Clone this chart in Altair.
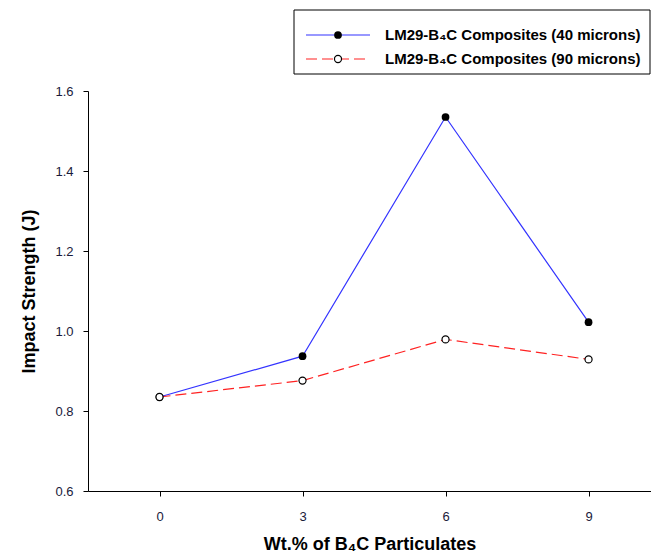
import altair as alt
import pandas as pd

wt = [0, 3, 6, 9]
s40 = [0.835, 0.937, 1.535, 1.022]
s90 = [0.835, 0.876, 0.979, 0.929]
names = ["LM29-B\u2084C Composites (40 microns)", "LM29-B\u2084C Composites (90 microns)"]
x_ticks = [0, 3, 6, 9]
y_ticks = [0.6, 0.8, 1.0, 1.2, 1.4, 1.6]

df40 = pd.DataFrame({"wt": wt, "v": s40})
df90 = pd.DataFrame({"wt": wt, "v": s90})

W, H = 563, 400
FONT = "Liberation Sans"

xs = alt.Scale(domain=[-1.5, 10.31], nice=False, zero=False)
ys = alt.Scale(domain=[0.6, 1.6], nice=False, zero=False)
xax = alt.Axis(values=x_ticks, title="Wt.% of B\u2084C Particulates", grid=False, titlePadding=12,
               labelPadding=14)
yax = alt.Axis(values=y_ticks, format=".1f", title="Impact Strength (J)", grid=False, titlePadding=16,
               labelPadding=10)
X = alt.X("wt:Q", scale=xs, axis=xax)
Y = alt.Y("v:Q", scale=ys, axis=yax)

line40 = alt.Chart(df40).mark_line(color="#3333ff", strokeWidth=1.2).encode(x=X, y=Y)
pt40 = alt.Chart(df40).mark_point(filled=True, color="black", size=60, opacity=1).encode(x=X, y=Y)
line90 = alt.Chart(df90).mark_line(color="#ff2222", strokeWidth=1.2, strokeDash=[11, 5]).encode(x=X, y=Y)
pt90 = alt.Chart(df90).mark_point(filled=True, fill="white", stroke="black", strokeWidth=1.2,
                                  size=50, opacity=1).encode(x=X, y=Y)

leg = pd.DataFrame({"label": names})
box = alt.Chart(leg.head(1)).mark_rect(fill="white", stroke="black", strokeWidth=1).encode(
    x=alt.value(206), x2=alt.value(562), y=alt.value(-81), y2=alt.value(-17))
l1 = alt.Chart(leg.head(1)).mark_rule(color="#3333ff", strokeWidth=1.2).encode(
    x=alt.value(218), x2=alt.value(282), y=alt.value(-56))
l2 = alt.Chart(leg.head(1)).mark_rule(color="#ff2222", strokeWidth=1.2, strokeDash=[11, 5]).encode(
    x=alt.value(218), x2=alt.value(282), y=alt.value(-32))
m1 = alt.Chart(leg.head(1)).mark_point(filled=True, color="black", size=60, opacity=1).encode(
    x=alt.value(250), y=alt.value(-56))
m2 = alt.Chart(leg.head(1)).mark_point(filled=True, fill="white", stroke="black", strokeWidth=1.2,
                                       size=50, opacity=1).encode(x=alt.value(250), y=alt.value(-32))
t1 = alt.Chart(leg.iloc[[0]]).mark_text(align="left", baseline="middle", font=FONT, fontSize=15,
                                        fontWeight="bold", color="black").encode(
    x=alt.value(297), y=alt.value(-56), text="label:N")
t2 = alt.Chart(leg.iloc[[1]]).mark_text(align="left", baseline="middle", font=FONT, fontSize=15,
                                        fontWeight="bold", color="black").encode(
    x=alt.value(297), y=alt.value(-32), text="label:N")

chart = alt.layer(line40, line90, pt40, pt90, box, l1, l2, m1, m2, t1, t2).properties(
    width=W, height=H, padding={"left": 12, "top": 1, "right": 0, "bottom": 0}
).configure_view(stroke=None).configure_axis(
    domainColor="black", tickColor="black", tickSize=5, labelFont=FONT, labelFontSize=13,
    labelColor="#1a1a3a", titleFont=FONT, titleFontSize=18, titleFontWeight="bold", titleColor="black",
    domainWidth=1, tickWidth=1
)

chart.save("out.html", embed_options={"renderer": "svg", "actions": False})
